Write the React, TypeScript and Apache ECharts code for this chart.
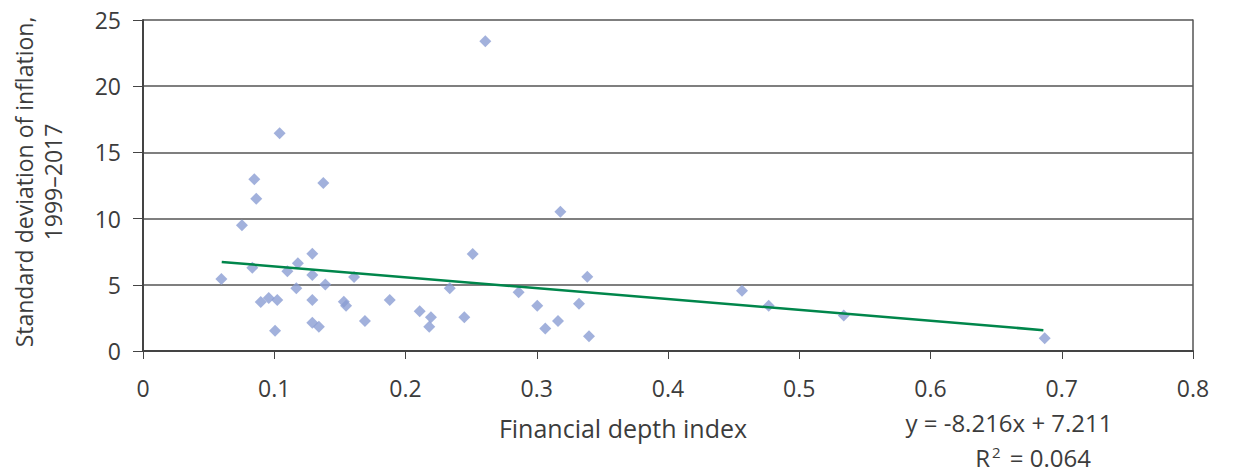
import React, { useEffect, useRef } from "react";
import * as echarts from "echarts";

const depthIndex = [
  0.0848, 0.1374, 0.0863, 0.0754, 0.129, 0.118, 0.0833, 0.110, 0.0597, 0.129,
  0.1608, 0.1389, 0.1168, 0.0958, 0.0897, 0.1023, 0.129, 0.153, 0.1547, 0.188,
  0.2108, 0.1691, 0.129, 0.134, 0.1006,
  0.318, 0.2512, 0.3385, 0.2337, 0.2862, 0.3004, 0.3322, 0.2194, 0.2448, 0.3162,
  0.2181, 0.3065, 0.3398,
  0.4564, 0.4767, 0.5339, 0.687,
  0.2608, 0.1041,
];
const inflationSd = [
  12.97, 12.69, 11.5, 9.49, 7.35, 6.62, 6.29, 6.02, 5.44, 5.74,
  5.59, 5.03, 4.73, 4.0, 3.7, 3.85, 3.85, 3.72, 3.42, 3.85,
  3.0, 2.27, 2.14, 1.84, 1.53,
  10.52, 7.33, 5.61, 4.73, 4.43, 3.42, 3.57, 2.54, 2.54, 2.27,
  1.84, 1.69, 1.11,
  4.55, 3.42, 2.69, 0.96,
  23.39, 16.44,
];
// Trend line end points (y = -8.216x + 7.211)
const trendX = [0.06, 0.686];
const trendY = [6.72, 1.575];
const xTicks = { min: 0, max: 0.8, interval: 0.1 };
const yTicks = { min: 0, max: 25, interval: 5 };
const yTitle = "Standard deviation of inflation,\n1999\u20132017";
const xTitle = "Financial depth index";
const eqText = "y = -8.216x + 7.211";

const FONT = "'Open Sans'";
const TXT = "#3c3c3c";

export default function App() {
  const ref = useRef<HTMLDivElement>(null);
  useEffect(() => {
    if (!ref.current) return;
    const chart = echarts.init(ref.current, undefined, { renderer: "svg" });
    chart.setOption({
      animation: false,
      textStyle: { fontFamily: FONT },
      grid: { left: 143, right: 42, top: 20, bottom: 124 },
      xAxis: {
        type: "value",
        min: xTicks.min,
        max: xTicks.max,
        interval: xTicks.interval,
        axisLine: { show: true, onZero: false, lineStyle: { color: "#444", width: 2 } },
        axisTick: { show: true, length: 8, lineStyle: { color: "#444", width: 1 } },
        axisLabel: { color: TXT, fontSize: 23, margin: 25, fontFamily: FONT },
        splitLine: { show: false },
      },
      yAxis: [
        {
          type: "value",
          min: yTicks.min,
          max: yTicks.max,
          interval: yTicks.interval,
          axisLine: { show: true, lineStyle: { color: "#444", width: 2 } },
          axisTick: { show: true, length: 10, lineStyle: { color: "#444", width: 1 } },
          axisLabel: { color: TXT, fontSize: 23, margin: 22, fontFamily: FONT },
          splitLine: { show: true, lineStyle: { color: "#555", width: 1.5 } },
        },
        {
          type: "value",
          position: "right",
          min: yTicks.min,
          max: yTicks.max,
          interval: yTicks.interval,
          axisLine: { show: true, lineStyle: { color: "#555", width: 1.5 } },
          axisTick: { show: false },
          axisLabel: { show: false },
          splitLine: { show: false },
        },
      ],
      series: [
        {
          type: "scatter",
          symbol: "diamond",
          symbolSize: 12,
          itemStyle: { color: "#8b9dd3" },
          data: depthIndex.map((x, i) => [x, inflationSd[i]]),
          z: 3,
        },
        {
          type: "line",
          showSymbol: false,
          symbol: "none",
          lineStyle: { color: "#00864b", width: 2.5 },
          data: trendX.map((x, i) => [x, trendY[i]]),
          z: 4,
        },
      ],
      graphic: [
        {
          type: "text",
          x: 38,
          y: 182,
          rotation: Math.PI / 2,
          style: {
            text: yTitle,
            fill: TXT,
            font: `23px ${FONT}`,
            align: "center",
            verticalAlign: "middle",
            lineHeight: 29,
          },
        },
        {
          type: "text",
          x: 623,
          y: 428,
          style: { text: xTitle, fill: TXT, font: `25px ${FONT}`, align: "center", verticalAlign: "middle" },
        },
        {
          type: "text",
          x: 1009,
          y: 422,
          style: { text: eqText, fill: TXT, font: `24px ${FONT}`, align: "center", verticalAlign: "middle" },
        },
        {
          type: "text",
          x: 1033,
          y: 457,
          style: {
            text: "{a|R}{s|2}{a| = 0.064}",
            fill: TXT,
            align: "center",
            verticalAlign: "middle",
            rich: {
              a: { fontSize: 24, fontFamily: FONT, fill: TXT },
              s: { fontSize: 15, fontFamily: FONT, fill: TXT, verticalAlign: "top", padding: [0, 3, 10, 2] },
            },
          },
        },
      ],
    });
    return () => chart.dispose();
  }, []);
  return <div ref={ref} style={{ width: 1235, height: 475, margin: -8 }} />;
}
